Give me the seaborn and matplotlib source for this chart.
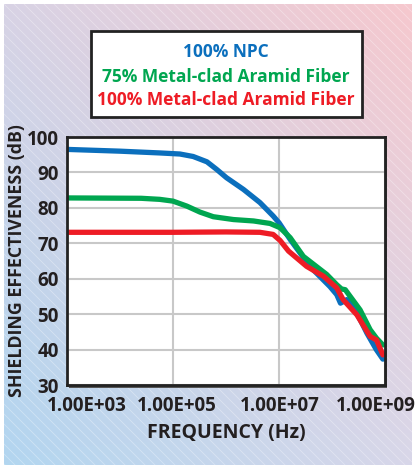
import numpy as np
import pandas as pd
import matplotlib
matplotlib.use("Agg")
import matplotlib.pyplot as plt
import seaborn as sns
from matplotlib.transforms import ScaledTranslation
from matplotlib.patches import Rectangle

# ---- data (log10 frequency, dB) ----
npc_logf = [3.0, 4.0, 4.75, 5.13, 5.38, 5.64, 5.82, 6.01, 6.33, 6.64, 6.89, 7.0, 7.21, 7.58, 7.96,
            8.09, 8.16, 8.28, 8.47, 8.66, 8.84, 8.96]
npc_db = [96.5, 96.0, 95.5, 95.2, 94.5, 93.0, 90.9, 88.5, 85.2, 81.5, 77.7, 75.8, 71.1, 63.5, 57.8,
          55.5, 53.1, 54.1, 50.3, 44.6, 39.9, 37.3]

g75_logf = [3.0, 4.4, 4.75, 5.0, 5.26, 5.51, 5.76, 6.14, 6.52, 6.83, 7.02, 7.21, 7.46, 7.90, 8.09,
            8.18, 8.25, 8.53, 8.72, 8.84, 8.96]
g75_db = [82.8, 82.7, 82.4, 81.9, 80.5, 78.8, 77.5, 76.7, 76.3, 75.6, 74.4, 71.6, 66.3, 61.2, 58.3,
          57.1, 56.9, 51.2, 45.6, 43.2, 41.3]

r100_logf = [3.0, 5.0, 6.0, 6.64, 6.89, 7.02, 7.18, 7.52, 7.84, 8.09, 8.21, 8.47, 8.72, 8.84, 8.96]
r100_db = [73.1, 73.1, 73.2, 73.1, 72.5, 70.8, 67.8, 63.5, 60.7, 57.4, 54.1, 49.8, 43.7, 42.7, 38.5]

series_names = ["100% NPC", "75% Metal-clad Aramid Fiber", "100% Metal-clad Aramid Fiber"]
series_colors = ["#0b6fbd", "#00a650", "#ee1c25"]
x_ticks = [1e3, 1e5, 1e7, 1e9]
x_tick_labels = ["1.00E+03", "1.00E+05", "1.00E+07", "1.00E+09"]
y_ticks = [30, 40, 50, 60, 70, 80, 90, 100]

rows = []
for name, lf, db in zip(series_names, [npc_logf, g75_logf, r100_logf], [npc_db, g75_db, r100_db]):
    for a, b in zip(lf, db):
        rows.append({"freq": 10 ** a, "se": b, "series": name})
df = pd.DataFrame(rows)

sns.set_theme(style="white")
plt.rcParams["font.family"] = ["Open Sans", "DejaVu Sans"]

W, H = 416, 469
fig = plt.figure(figsize=(W / 100, H / 100), dpi=100)
fig.patch.set_facecolor("white")

# background gradient panel
bg = fig.add_axes([4 / W, 4 / H, 408 / W, 461 / H], zorder=-10)
tl = np.array([216, 211, 229]) / 255
tr = np.array([246, 200, 206]) / 255
bl = np.array([178, 214, 240]) / 255
br = np.array([216, 215, 233]) / 255
u = np.linspace(0, 1, 200)[None, :, None]
v = np.linspace(0, 1, 200)[:, None, None]  # 0 top, 1 bottom
img = (1 - v) * ((1 - u) * tl + u * tr) + v * ((1 - u) * bl + u * br)
bg.imshow(img, extent=[0, 408, 0, 461], aspect="auto", origin="upper")
for c in np.arange(-470, 420, 10):
    bg.plot([c, c + 470], [461, -9], color="white", alpha=0.35, lw=0.6)
bg.set_xlim(0, 408)
bg.set_ylim(0, 461)
bg.axis("off")

# main axes
ax = fig.add_axes([67 / W, 1 - 385 / H, 318 / W, 248 / H])
ax.set_facecolor("white")
fig.patches.append(Rectangle((69 / W, 1 - 388 / H), 318 / W, 248 / H,
                             transform=fig.transFigure, facecolor="#555555",
                             edgecolor="none", zorder=0.5))
ax.set_zorder(1)

sns.lineplot(data=df, x="freq", y="se", hue="series", hue_order=series_names,
             palette=series_colors, linewidth=3.8, ax=ax, legend=False,
             estimator=None, sort=False)
for ln in ax.get_lines():
    ln.set_solid_joinstyle("round")
    ln.set_solid_capstyle("round")
ax.set_xscale("log")
ax.set_xlim(1e3, 1e9)
ax.set_ylim(30, 100)
ax.set_xticks(x_ticks)
ax.set_xticklabels(x_tick_labels)
ax.minorticks_off()
ax.set_yticks(y_ticks)
ax.grid(True, color="#c8c8c8", linewidth=1.5)
ax.set_axisbelow(True)
for s in ax.spines.values():
    s.set_color("#222222")
    s.set_linewidth(2)
ax.tick_params(axis="both", length=0, labelsize=13.5, labelcolor="#231f20")
ax.tick_params(axis="y", pad=6)
ax.tick_params(axis="x", pad=8)
for lab in ax.get_xticklabels() + ax.get_yticklabels():
    lab.set_fontweight("bold")
offsets = [20, 4, 1, -9]
for lab, dx in zip(ax.get_xticklabels(), offsets):
    lab.set_transform(lab.get_transform() + ScaledTranslation(dx / 100, 0, fig.dpi_scale_trans))

ax.set_xlabel("FREQUENCY (Hz)", fontsize=14, fontweight="bold", color="#231f20", labelpad=5)
ax.set_ylabel("SHIELDING EFFECTIVENESS (dB)", fontsize=12.8, fontweight="bold", color="#231f20")
ax.yaxis.set_label_coords(-0.128, 0.5)

# legend box
fig.patches.append(Rectangle((91 / W, 1 - 117 / H), 271 / W, 86 / H,
                             transform=fig.transFigure, facecolor="white",
                             edgecolor="#222222", linewidth=2, zorder=2))
for name, col, yy in zip(series_names, series_colors, [52, 77, 100]):
    fig.text(226 / W, 1 - yy / H, name, color=col, fontsize=12.5, fontweight="bold",
             ha="center", va="center", zorder=3)

fig.savefig("out.png", dpi=100)
